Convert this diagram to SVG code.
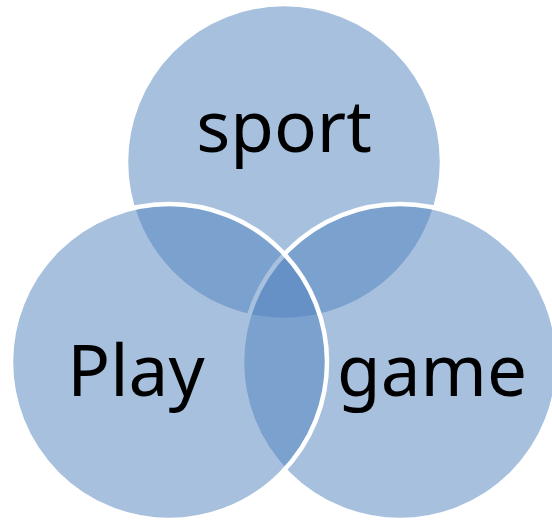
<svg xmlns="http://www.w3.org/2000/svg" width="552" height="524" viewBox="0 0 552 524">
  <style>
    .c { fill: #4f81bd; fill-opacity: 0.5; stroke: #ffffff; stroke-width: 4.5; }
    .t { font-family: "Noto Sans", "Open Sans", "Liberation Sans", sans-serif; font-size: 71px; fill: #000000; text-anchor: middle; }
  </style>
  <rect width="552" height="524" fill="#ffffff"/>
  <g id="sport">
    <circle class="c" cx="284" cy="162" r="158"/>
    <text class="t" x="284" y="152">sport</text>
  </g>
  <g id="game">
    <circle class="c" cx="400" cy="362" r="158"/>
    <text class="t" x="432" y="396">game</text>
  </g>
  <g id="play">
    <circle class="c" cx="169" cy="362" r="158"/>
    <text class="t" x="136" y="396">Play</text>
  </g>
  <g id="connectors"></g>
</svg>
